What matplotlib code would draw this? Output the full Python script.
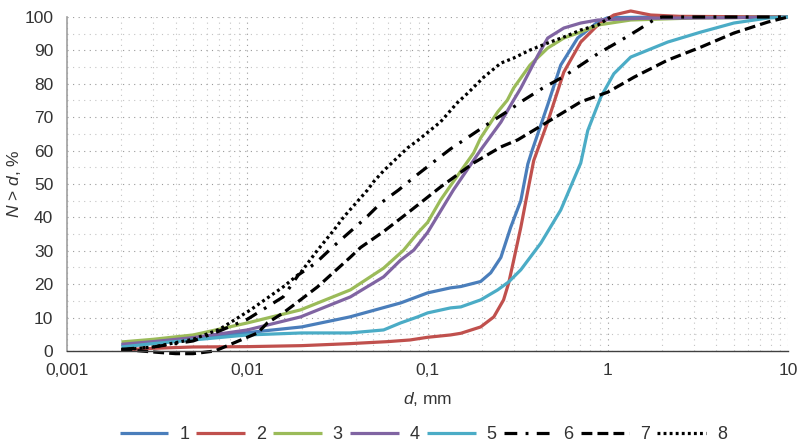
"""Cumulative particle size distribution N > d for eight samples (log d axis)."""

import matplotlib.pyplot as plt
from matplotlib.ticker import FuncFormatter, LogLocator, MultipleLocator

plt.rcParams["font.family"] = ["Liberation Sans", "DejaVu Sans"]
plt.rcParams["mathtext.fontset"] = "custom"
plt.rcParams["mathtext.rm"] = "Liberation Sans"
plt.rcParams["mathtext.it"] = "Liberation Sans:italic"

# values: d in mm, N in %
d1 = [0.002, 0.003, 0.005, 0.01, 0.02, 0.037, 0.071, 0.1, 0.134, 0.153, 0.197,
      0.224, 0.255, 0.289, 0.329, 0.36, 0.38, 0.464, 0.548, 0.68, 0.88, 1.0, 2.0, 10]
n1 = [1.8, 2.8, 4.0, 5.5, 7.2, 10.2, 14.4, 17.4, 18.9, 19.3, 20.8,
      23.4, 28, 37, 45, 56, 60, 73.7, 85.6, 93.7, 98.5, 99.8, 100, 100]

d2 = [0.002, 0.003, 0.005, 0.01, 0.02, 0.037, 0.06, 0.08, 0.1, 0.134, 0.153, 0.197,
      0.233, 0.264, 0.282, 0.30, 0.329, 0.36, 0.388, 0.464, 0.57, 0.708, 0.88,
      1.08, 1.34, 1.73, 2.5, 10]
n2 = [0.3, 0.8, 1.2, 1.3, 1.6, 2.2, 2.8, 3.3, 4.1, 4.8, 5.3, 7.2,
      10.2, 15.3, 20.4, 27, 37, 48, 57, 68.6, 83.5, 92.5, 97.6,
      100.6, 101.8, 100.6, 100.2, 100]

d3 = [0.002, 0.003, 0.005, 0.01, 0.0197, 0.0373, 0.057, 0.0736, 0.088, 0.1, 0.118,
      0.134, 0.18, 0.197, 0.245, 0.277, 0.30, 0.37, 0.464, 0.57, 0.708, 0.88, 1.34,
      3.0, 10]
n3 = [2.7, 3.5, 4.8, 8.4, 12.3, 18.3, 24.8, 30.2, 35.3, 38.5, 45.2,
      49.5, 59.3, 63.8, 71.6, 75.1, 78.7, 85.6, 90.7, 93.7, 95.5, 97.6, 99.1,
      99.7, 100]

d4 = [0.002, 0.003, 0.005, 0.01, 0.0197, 0.0373, 0.057, 0.0708, 0.0838, 0.1, 0.139,
      0.167, 0.197, 0.255, 0.30, 0.329, 0.41, 0.464, 0.57, 0.708, 0.88, 1.5, 5.0, 10]
n4 = [2.0, 2.8, 4.0, 6.3, 10.2, 16.2, 22.2, 27.2, 30.2, 35.5, 48.2,
      54.5, 60.2, 68.5, 75.1, 78.7, 88.6, 93.7, 96.7, 98.2, 99.1, 99.6, 99.8, 100]

d5 = [0.002, 0.003, 0.005, 0.01, 0.02, 0.037, 0.057, 0.0708, 0.088, 0.1, 0.134,
      0.153, 0.197, 0.245, 0.282, 0.329, 0.425, 0.548, 0.708, 0.774, 0.914, 1.08,
      1.34, 2.15, 3.29, 5.01, 7.74, 10]
n5 = [1.2, 2.2, 3.3, 4.8, 5.4, 5.4, 6.3, 8.4, 10.2, 11.4, 12.9,
      13.2, 15.3, 18.3, 20.7, 24.3, 32.3, 42.2, 56.3, 66, 76, 83,
      88, 92.5, 95.5, 98.2, 99.7, 100]

d6 = [0.002, 0.003, 0.005, 0.007, 0.01, 0.0158, 0.0192, 0.0239, 0.0297, 0.0364,
      0.0453, 0.055, 0.069, 0.0858, 0.108, 0.134, 0.169, 0.215, 0.271, 0.341,
      0.435, 0.562, 0.708, 0.891, 1.14, 1.47, 1.87, 2.0, 10]
n6 = [0.5, 1.2, 3.0, 6.0, 9.5, 16.2, 22.8, 26.3, 31.1, 35.3,
      39.8, 44.3, 48.2, 52.4, 56.6, 60.5, 64.1, 67.9, 71.4, 75.1,
      78.7, 82, 85.6, 89.2, 92.5, 96.1, 99.7, 100, 100]

d7 = [0.002, 0.003, 0.004, 0.005, 0.0066, 0.0084, 0.0114, 0.0129, 0.0158, 0.0197,
      0.0245, 0.0373, 0.0425, 0.0571, 0.0774, 0.118, 0.180, 0.255, 0.316, 0.464,
      0.708, 1.0, 1.40, 2.15, 3.29, 5.01, 7.74, 10]
n7 = [0.5, -0.3, -0.8, -0.8, 0.0, 2.4, 5.4, 8.4, 11.4, 15.3,
      19.2, 28.1, 31, 35.8, 41.3, 49.1, 56.3, 61.1, 63.2, 68.6,
      74.6, 77.5, 82, 87.1, 91, 95.2, 98.5, 100]

d8 = [0.002, 0.003, 0.005, 0.007, 0.0104, 0.0158, 0.0197, 0.0245, 0.0302, 0.0342,
      0.0464, 0.050, 0.0571, 0.0774, 0.088, 0.118, 0.146, 0.167, 0.205, 0.255,
      0.30, 0.37, 0.464, 0.57, 0.708, 0.88, 1.04]
n8 = [0.3, 1.2, 3.5, 6.5, 12.3, 19.2, 23.4, 30.2, 36.2, 40.1,
      48.2, 50.6, 54, 60.8, 63, 68.6, 74.3, 77.2, 82, 86.2,
      87.7, 90.1, 92.2, 94, 96.1, 97.6, 100]

LABELS = ["1", "2", "3", "4", "5", "6", "7", "8"]
COLORS = ["#4a7ebb", "#c0504d", "#9bbb59", "#8064a2", "#4bacc6",
          "black", "black", "black"]
DASHES = [None, None, None, None, None,
          (4, 2.6, 0.9, 2.6), (3.4, 1.6), (0.9, 1.0)]


def fmt_comma(x, _pos):
    s = f"{x:g}"
    return s.replace(".", ",")


def main() -> None:
    fig = plt.figure(figsize=(8.0, 4.44), dpi=100)
    ax = fig.add_axes([0.084, 0.2095, 0.901, 0.7522])

    series = [(d1, n1), (d2, n2), (d3, n3), (d4, n4),
              (d5, n5), (d6, n6), (d7, n7), (d8, n8)]
    for (d, n), lab, col, dash in zip(series, LABELS, COLORS, DASHES):
        line, = ax.plot(d, n, color=col, lw=2.3, label=lab, clip_on=False,
                        solid_capstyle="butt", solid_joinstyle="round")
        if dash is not None:
            line.set_dashes(dash)
            line.set_dash_capstyle("butt")

    ax.set_xscale("log")
    ax.set_xlim(0.001, 10)
    ax.set_ylim(0, 100)

    ax.xaxis.set_major_locator(LogLocator(base=10, numticks=10))
    ax.xaxis.set_minor_locator(LogLocator(base=10, subs=range(2, 10), numticks=50))
    ax.xaxis.set_major_formatter(FuncFormatter(fmt_comma))
    ax.xaxis.set_minor_formatter(FuncFormatter(lambda x, p: ""))
    ax.yaxis.set_major_locator(MultipleLocator(10))
    ax.yaxis.set_minor_locator(MultipleLocator(5))

    ax.grid(which="major", color="#9a9a9a", linestyle=(0, (1, 4)), linewidth=0.8)
    ax.grid(which="minor", color="#c4c4c4", linestyle=(0, (1, 4)), linewidth=0.8)
    ax.set_axisbelow(True)

    ax.tick_params(which="both", length=0, labelsize=12.5, colors="#333333", pad=9)
    ax.tick_params(axis="y", pad=10)
    for side in ("top", "right"):
        ax.spines[side].set_visible(False)
    ax.spines["left"].set_color("#a0a0a0")
    ax.spines["bottom"].set_color("#404040")
    ax.spines["left"].set_linewidth(1.2)
    ax.spines["bottom"].set_linewidth(1.0)

    ax.set_xlabel(r"$\mathit{d}$, mm", fontsize=12.5, color="#333333", labelpad=8)
    ax.set_ylabel(r"$\mathit{N}$ > $\mathit{d}$, %", fontsize=12.5, color="#333333")
    ax.yaxis.set_label_coords(-0.062, 0.5)

    ax.legend(loc="lower center", bbox_to_anchor=(0.529, -0.035),
              bbox_transform=fig.transFigure, ncol=8, frameon=False,
              fontsize=13, handlelength=2.7, handletextpad=0.6, columnspacing=0.4,
              labelcolor="#333333")

    fig.savefig("out.png", dpi=100)
    plt.close(fig)


if __name__ == "__main__":
    main()
